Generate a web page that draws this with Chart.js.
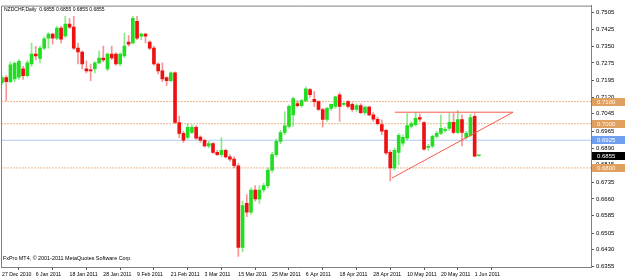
<!DOCTYPE html>
<html><head><meta charset="utf-8">
<script src="https://cdn.jsdelivr.net/npm/chart.js@4.4.1/dist/chart.umd.min.js"></script>
<style>html,body{margin:0;padding:0;background:#fff;overflow:hidden}#wrap{width:625px;height:279px;position:relative}canvas{display:block}</style>
</head><body><div id="wrap"><canvas id="c" width="625" height="279" style="width:625px;height:279px"></canvas></div>
<script>
// x-axis tick labels, one every 8 daily bars starting at bar 0
const dateLabels = ["27 Dec 2010","6 Jan 2011","18 Jan 2011","28 Jan 2011","9 Feb 2011","21 Feb 2011","3 Mar 2011","15 Mar 2011","25 Mar 2011","6 Apr 2011","18 Apr 2011","28 Apr 2011","10 May 2011","20 May 2011","1 Jun 2011"];
// y-axis tick labels
const priceTicks = [0.6355,0.6430,0.6505,0.6585,0.6660,0.6735,0.6815,0.6890,0.6965,0.7045,0.7120,0.7195,0.7275,0.7350,0.7425,0.7505];
// daily OHLC
const opens  = [0.7185,0.7208,0.7190,0.7203,0.7210,0.7248,0.7217,0.7270,0.7315,0.7295,0.7342,0.7387,0.7405,0.7387,0.7432,0.7397,0.7450,0.7437,0.7342,0.7324,0.7248,0.7244,0.7248,0.7275,0.7297,0.7248,0.7315,0.7315,0.7270,0.7306,0.7369,0.7365,0.7463,0.7396,0.7405,0.7369,0.7342,0.7270,0.7239,0.7208,0.7194,0.7230,
0.7005,0.6956,0.6938,0.6961,0.6983,0.6939,0.6925,0.6900,0.6910,0.6870,0.6860,0.6880,0.6850,0.6840,0.6810,0.6440,0.6640,0.6600,0.6700,0.6660,0.6700,0.6720,0.6790,0.6860,0.6920,0.6960,0.6988,0.7040,0.7091,0.7082,0.7104,0.7154,0.7110,0.7100,0.7064,0.7019,0.7069,0.7078,0.7131,0.7087,0.7100,0.7087,0.7064,0.7082,0.7050,0.7075,0.7040,0.7020,0.6996,0.6970,0.6870,0.6800,0.6870,0.6912,0.6934,0.6988,0.6996,0.7028,0.7005,0.6893,0.6898,0.6943,0.6956,0.6970,0.6979,0.7006,0.6961,0.7019,0.6938,0.6947,0.7033,0.6855];
const highs  = [0.7215,0.7217,0.7280,0.7280,0.7290,0.7260,0.7285,0.7365,0.7350,0.7350,0.7392,0.7412,0.7410,0.7440,0.7440,0.7486,0.7475,0.7486,0.7365,0.7330,0.7284,0.7270,0.7280,0.7329,0.7351,0.7320,0.7351,0.7320,0.7320,0.7410,0.7400,0.7486,0.7486,0.7410,0.7410,0.7375,0.7350,0.7275,0.7275,0.7212,0.7235,0.7235,
0.7034,0.6965,0.7000,0.6995,0.6990,0.6945,0.6930,0.6920,0.6915,0.6880,0.6937,0.6885,0.6860,0.6850,0.6820,0.6650,0.6680,0.6710,0.6720,0.6720,0.6730,0.6800,0.6870,0.6930,0.6970,0.7055,0.7085,0.7120,0.7105,0.7110,0.7167,0.7160,0.7145,0.7105,0.7070,0.7075,0.7090,0.7125,0.7140,0.7095,0.7105,0.7095,0.7090,0.7090,0.7080,0.7080,0.7050,0.7030,0.7017,0.6975,0.6880,0.6890,0.6955,0.6950,0.7046,0.7010,0.7051,0.7045,0.7010,0.6905,0.6950,0.6965,0.7040,0.6985,0.7046,0.7046,0.7060,0.7040,0.6965,0.7042,0.7045,0.6858];
const lows   = [0.7178,0.7104,0.7185,0.7190,0.7200,0.7200,0.7210,0.7260,0.7290,0.7275,0.7335,0.7342,0.7360,0.7380,0.7365,0.7390,0.7430,0.7335,0.7270,0.7248,0.7230,0.7194,0.7230,0.7270,0.7280,0.7240,0.7290,0.7265,0.7262,0.7300,0.7350,0.7360,0.7380,0.7380,0.7365,0.7335,0.7265,0.7225,0.7190,0.7172,0.7190,0.7000,
0.6937,0.6915,0.6930,0.6955,0.6930,0.6915,0.6895,0.6890,0.6865,0.6855,0.6850,0.6845,0.6830,0.6800,0.6400,0.6420,0.6580,0.6590,0.6650,0.6640,0.6690,0.6710,0.6780,0.6850,0.6910,0.6950,0.6980,0.6988,0.7075,0.7075,0.7100,0.7120,0.7078,0.7060,0.6984,0.7010,0.7060,0.7070,0.7010,0.7080,0.7070,0.7055,0.7055,0.7045,0.7040,0.7035,0.7010,0.6995,0.6950,0.6860,0.6741,0.6790,0.6815,0.6900,0.6925,0.6980,0.6990,0.7010,0.6880,0.6880,0.6890,0.6935,0.6950,0.6960,0.6970,0.6955,0.6955,0.6900,0.6930,0.6940,0.6850,0.6853];
const closes = [0.7208,0.7190,0.7266,0.7273,0.7282,0.7217,0.7275,0.7315,0.7306,0.7342,0.7384,0.7405,0.7387,0.7432,0.7382,0.7450,0.7437,0.7342,0.7324,0.7270,0.7239,0.7239,0.7275,0.7297,0.7288,0.7315,0.7297,0.7270,0.7315,0.7351,0.7360,0.7476,0.7387,0.7405,0.7396,0.7342,0.7270,0.7239,0.7203,0.7194,0.7230,0.7006,
0.6956,0.6925,0.6983,0.6983,0.6934,0.6925,0.6900,0.6910,0.6870,0.6860,0.6880,0.6850,0.6840,0.6810,0.6440,0.6630,0.6600,0.6700,0.6660,0.6700,0.6720,0.6790,0.6860,0.6920,0.6960,0.6990,0.7078,0.7113,0.7082,0.7104,0.7158,0.7131,0.7100,0.7064,0.7019,0.7069,0.7087,0.7122,0.7078,0.7091,0.7078,0.7064,0.7082,0.7050,0.7075,0.7040,0.7020,0.7000,0.6966,0.6868,0.6800,0.6880,0.6947,0.6938,0.6992,0.7001,0.7024,0.7020,0.6885,0.6897,0.6943,0.6956,0.6979,0.6974,0.7006,0.6961,0.7019,0.6961,0.6956,0.7028,0.6853,0.6855];
// horizontal price levels
const levelValues = [0.7100, 0.7000, 0.6800];
const blueLevel = 0.6925;
const lastPrice = 0.6855;
// triangle drawn on the chart: [bar index, price]
const triTop  = [[93.1, 0.7052], [121.1, 0.7052]];
const triDiag = [[92.4, 0.6754], [121.1, 0.7052]];

const X_MIN = -0.24, X_MAX = 139.57, Y_MIN = 0.6352, Y_MAX = 0.7534;
const FONT = "'Liberation Sans', Arial, sans-serif";
const idx = opens.map((_, i) => i);
const isUp = idx.map(i => closes[i] >= opens[i]);

const overlay = {
  id: 'overlay',
  afterDraw(chart) {
    const {ctx, chartArea: a, scales: {y}} = chart;
    ctx.save();
    ctx.strokeStyle = '#808080'; ctx.lineWidth = 1;
    ctx.beginPath();
    ctx.moveTo(a.left + 0.5, a.bottom); ctx.lineTo(a.left + 0.5, a.top + 0.5); ctx.lineTo(a.right, a.top + 0.5);
    ctx.stroke();
    ctx.fillStyle = '#000'; ctx.textBaseline = 'middle'; ctx.textAlign = 'left';
    ctx.font = '5px ' + FONT;
    ctx.fillText('NZDCHF,Daily  0.6855 0.6855 0.6855 0.6855', a.left + 3, a.top + 4.5);
    ctx.font = '5.4px ' + FONT;
    ctx.fillText('FxPro MT4, \u00a9 2001-2011 MetaQuotes Software Corp.', a.left + 2, a.bottom - 8);
    const box = (v, bg, fg) => {
      const py = Math.round(y.getPixelForValue(v));
      ctx.fillStyle = bg; ctx.fillRect(a.right + 1, py - 4, 624 - a.right, 8);
      ctx.fillStyle = fg; ctx.font = '6px ' + FONT; ctx.textAlign = 'left';
      ctx.fillText(v.toFixed(4), a.right + 6, py + 0.5);
    };
    levelValues.forEach(v => box(v, '#e0a060', '#fff6ea'));
    box(blueLevel, '#6f9ff0', '#ffffff');
    box(lastPrice, '#000000', '#ffffff');
    ctx.restore();
  }
};

new Chart(document.getElementById('c'), {
  type: 'bar',
  data: {
    datasets: [
      ...levelValues.map(v => ({type: 'line', order: 5, data: [{x: X_MIN, y: v}, {x: X_MAX, y: v}], borderColor: 'rgba(228,160,100,0.75)', borderWidth: 1, pointRadius: 0, borderDash: [2, 1]})),
      {type: 'line', order: 5, data: [{x: X_MIN, y: blueLevel}, {x: X_MAX, y: blueLevel}], borderColor: 'rgba(120,165,245,0.6)', borderWidth: 1, pointRadius: 0},
      {type: 'bar', order: 3, grouped: false, barThickness: 1, data: idx.map(i => ({x: i, y: [lows[i], highs[i]]})),
        backgroundColor: idx.map(i => isUp[i] ? 'rgba(40,220,40,0.55)' : 'rgba(245,40,40,0.5)')},
      {type: 'bar', order: 2, grouped: false, barThickness: 3, minBarLength: 1, data: idx.map(i => ({x: i, y: [Math.min(opens[i], closes[i]), Math.max(opens[i], closes[i])]})),
        backgroundColor: idx.map(i => isUp[i] ? '#22dd22' : '#ee1111')},
      {type: 'line', order: 1, data: triTop.map(p => ({x: p[0], y: p[1]})), borderColor: '#f85a4a', borderWidth: 1, pointRadius: 0},
      {type: 'line', order: 1, data: triDiag.map(p => ({x: p[0], y: p[1]})), borderColor: '#f85a4a', borderWidth: 1, pointRadius: 0}
    ]
  },
  options: {
    responsive: false, animation: false, devicePixelRatio: 1,
    layout: {padding: {top: 3, left: 1, right: 0, bottom: 0}},
    plugins: {legend: {display: false}, tooltip: {enabled: false}},
    scales: {
      x: {
        type: 'linear', min: X_MIN, max: X_MAX, position: 'bottom', offset: false,
        afterBuildTicks: s => { s.ticks = dateLabels.map((_, k) => ({value: k * 8})); },
        afterFit: s => { s.height = 12; },
        ticks: {autoSkip: false, maxRotation: 0, align: 'start', padding: 1, color: '#000', font: {size: 5.2, family: FONT},
          callback: v => dateLabels[Math.round(v / 8)]},
        grid: {display: true, drawOnChartArea: false, tickLength: 3, color: '#555'},
        border: {display: true, color: '#808080'}
      },
      y: {
        type: 'linear', min: Y_MIN, max: Y_MAX, position: 'right',
        afterBuildTicks: s => { s.ticks = priceTicks.map(v => ({value: v})); },
        afterFit: s => { s.width = 34; },
        ticks: {autoSkip: false, padding: 2, color: '#000', font: {size: 6, family: FONT}, callback: v => v.toFixed(4)},
        grid: {display: true, drawOnChartArea: false, tickLength: 3, color: '#555'},
        border: {display: true, color: '#808080'}
      }
    }
  },
  plugins: [overlay]
});
</script></body></html>
